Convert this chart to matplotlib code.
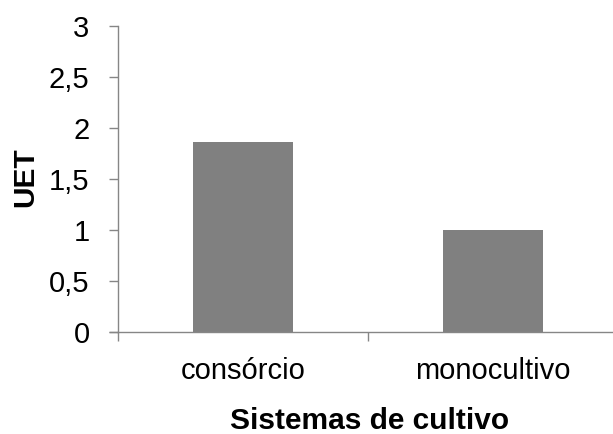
import matplotlib.pyplot as plt

plt.rcParams['font.family'] = ['Liberation Sans', 'DejaVu Sans']

# land equivalent ratio per cropping system
sistemas = ['consórcio', 'monocultivo']
uet = [1.86, 1.0]
yticks = [0, 0.5, 1, 1.5, 2, 2.5, 3]
ytick_labels = ['0', '0,5', '1', '1,5', '2', '2,5', '3']

axis_gray = '#868686'

fig = plt.figure(figsize=(6.13, 4.34), dpi=100)
ax = fig.add_axes([118 / 613, 102 / 434, 500 / 613, 306 / 434])

ax.bar(range(len(sistemas)), uet, width=0.4, color='#808080')

ax.set_xlim(-0.5, 1.5)
ax.set_ylim(0, 3)
ax.set_yticks(yticks)
ax.set_yticklabels(ytick_labels)
ax.set_xticks([0, 1])
ax.set_xticklabels(sistemas)
ax.set_xticks([-0.5, 0.5, 1.5], minor=True)

for side in ['top', 'right']:
    ax.spines[side].set_visible(False)
for side in ['left', 'bottom']:
    ax.spines[side].set_color(axis_gray)
    ax.spines[side].set_linewidth(1.0)

ax.tick_params(axis='y', length=6.5, width=1.0, color=axis_gray, pad=14,
               labelsize=21)
ax.tick_params(axis='x', which='major', length=0, pad=18, labelsize=21)
ax.tick_params(axis='x', which='minor', length=6.5, width=1.0, color=axis_gray)

# Excel-style: horizontal axis line pokes slightly left of the vertical axis
ax.plot([-0.5 - 9 / 250, -0.5], [0, 0], color=axis_gray, lw=1.0,
        clip_on=False, solid_capstyle='butt')

ax.set_ylabel('UET', fontsize=21.5, fontweight='bold')
ax.yaxis.label.set_va('center')
ax.yaxis.set_label_coords((25 - 118) / 500, (332 - 177) / 306)

ax.set_xlabel('Sistemas de cultivo', fontsize=21.5, fontweight='bold')
ax.xaxis.label.set_va('baseline')
ax.xaxis.set_label_coords((370 - 118) / 500, -(429 - 332) / 306)

fig.savefig('out.png', dpi=100)
